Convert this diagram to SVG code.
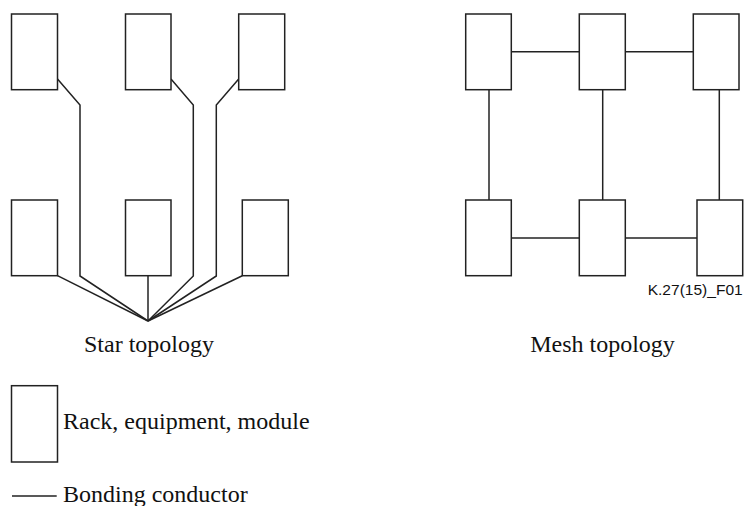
<svg xmlns="http://www.w3.org/2000/svg" width="744" height="506" viewBox="0 0 744 506">
<style>
.box{fill:#fff;stroke:#222;stroke-width:1.5}
.wire{fill:none;stroke:#222;stroke-width:1.5;stroke-linejoin:miter}
.lbl{font-family:"Liberation Serif","Times New Roman",serif;font-size:24px;fill:#111}
.code{font-family:"Liberation Sans",Arial,sans-serif;font-size:15px;fill:#111}
</style>
<rect width="744" height="506" fill="#fff"/>
<g id="connectors">
<polyline class="wire" points="57.5,79 80,105 80,276 148,321"/>
<polyline class="wire" points="171,79 193.3,105 193.3,276 148,321"/>
<polyline class="wire" points="238.7,79 216.3,105 216.3,276 148,321"/>
<line class="wire" x1="57.5" y1="275.7" x2="148" y2="321"/>
<line class="wire" x1="148" y1="275.7" x2="148" y2="321"/>
<line class="wire" x1="242.3" y1="275.7" x2="148" y2="321"/>
<line class="wire" x1="511.3" y1="51.7" x2="579.3" y2="51.7"/>
<line class="wire" x1="625.3" y1="51.7" x2="693.3" y2="51.7"/>
<line class="wire" x1="511.3" y1="238" x2="579.3" y2="238"/>
<line class="wire" x1="625.3" y1="238" x2="697" y2="238"/>
<line class="wire" x1="489" y1="89.5" x2="489" y2="200"/>
<line class="wire" x1="602.7" y1="89.5" x2="602.7" y2="200"/>
<line class="wire" x1="719.3" y1="89.5" x2="719.3" y2="200"/>
</g>
<g id="star-top-left"><rect class="box" x="11.5" y="14" width="46" height="75.7"/></g>
<g id="star-top-mid"><rect class="box" x="125.5" y="14" width="45.5" height="75.7"/></g>
<g id="star-top-right"><rect class="box" x="238.7" y="14" width="46" height="75.7"/></g>
<g id="star-bot-left"><rect class="box" x="11.5" y="200" width="46" height="75.7"/></g>
<g id="star-bot-mid"><rect class="box" x="125.5" y="200" width="45.5" height="75.7"/></g>
<g id="star-bot-right"><rect class="box" x="242.3" y="200" width="46" height="75.7"/></g>
<g id="mesh-top-left"><rect class="box" x="465.7" y="14" width="45.6" height="75.7"/></g>
<g id="mesh-top-mid"><rect class="box" x="579.3" y="14" width="46" height="75.7"/></g>
<g id="mesh-top-right"><rect class="box" x="693.3" y="14" width="45.7" height="75.7"/></g>
<g id="mesh-bot-left"><rect class="box" x="465.7" y="200" width="45.6" height="75.7"/></g>
<g id="mesh-bot-mid"><rect class="box" x="579.3" y="200" width="46" height="75.7"/></g>
<g id="mesh-bot-right"><rect class="box" x="697" y="200" width="45.7" height="75.7"/></g>
<g id="labels">
<text class="code" x="647.7" y="295" textLength="95" lengthAdjust="spacingAndGlyphs">K.27(15)_F01</text>
<text class="lbl" x="149" y="352" text-anchor="middle">Star topology</text>
<text class="lbl" x="602.5" y="352" text-anchor="middle">Mesh topology</text>
</g>
<g id="legend">
<rect class="box" x="11.5" y="385.7" width="46" height="76.3"/>
<text class="lbl" x="63" y="429">Rack, equipment, module</text>
<line class="wire" x1="12" y1="496" x2="56.7" y2="496"/>
<text class="lbl" x="63" y="501.7">Bonding conductor</text>
</g>
</svg>
